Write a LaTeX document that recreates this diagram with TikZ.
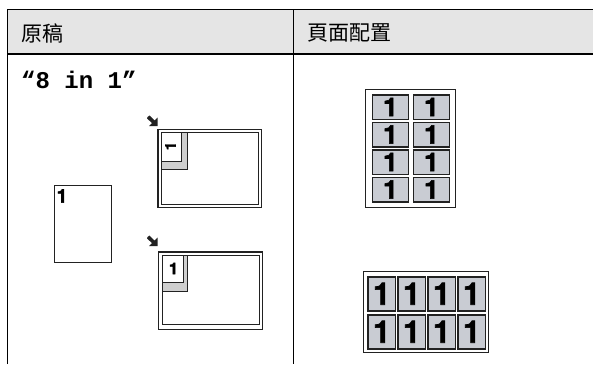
\documentclass[tikz,border=0pt]{standalone}
\usepackage{fontspec}
\newfontfamily\cjk{Noto Sans CJK TC}
\newfontfamily\courf{Liberation Mono}
\newfontfamily\arialf{TeX Gyre Heros}[BoldFeatures={FakeBold=2}]
\definecolor{hdr}{HTML}{E5E5E5}
\definecolor{cellg}{HTML}{C9CCD3}
\definecolor{shade}{HTML}{CFCFCF}
\definecolor{ln}{HTML}{222222}
\tikzset{
  tbl/.style={line width=1.6pt, black},
  pg/.style={draw=ln, line width=1pt, fill=white},
  dbl/.style={draw=ln, line width=1.2pt},
  cell/.style={draw=ln, line width=1.5pt, fill=cellg},
  one/.style={inner sep=0pt},
  hdrtxt/.style={font=\cjk\fontsize{21}{21}\selectfont, inner sep=0pt, anchor=west},
}
\begin{document}
\begin{tikzpicture}[x=1pt,y=-1pt]
\useasboundingbox (0,0) rectangle (593,364);
% header
\fill[hdr] (7.5,9.5) rectangle (593,54);
\draw[tbl] (7.5,364) -- (7.5,9.5) coordinate (tl) -- (593,9.5) coordinate (tr);
\draw[tbl] (7.5,54) coordinate (hl) -- (593,54) coordinate (hr);
\draw[tbl] (293.5,9.5) coordinate (dt) -- (293.5,364) coordinate (db);
\node[hdrtxt] (h1) at (21,33) {原稿};
\node[hdrtxt] (h2) at (307,33) {頁面配置};
% 8 in 1
\node[font=\courf\bfseries\fontsize{24}{24}\selectfont, inner sep=0pt, anchor=base west] (t81) at (21,88.5) {“8 in 1”};
% left original page
\draw[pg] (54,185) rectangle (111,262);
\node[one, font=\arialf\bfseries\fontsize{19}{19}\selectfont, anchor=north west] (p1) at (56.5,189) {1};
% upper landscape
\fill[ln] (147.5,117) -- (149.5,115.5) -- (154.5,120.5) -- (157.5,117.5) -- (157.5,126) -- (149,126) -- (152,123) -- (147,118.5) -- cycle;
\draw[dbl] (158,129.7) rectangle (261.5,207.3);
\draw[draw=ln, line width=1pt] (161.5,132.7) rectangle (258.5,204.3);
\draw[draw=ln, line width=1pt, fill=shade] (161.5,132.7) rectangle (187.3,169);
\draw[pg] (161.5,132.7) rectangle (181.7,161.7);
\node[one, font=\arialf\bfseries\fontsize{15}{15}\selectfont, rotate=90] (r1) at (170.5,146) {1};
% lower landscape
\fill[ln] (147.5,237) -- (149.5,235.5) -- (154.5,240.5) -- (157.5,237.5) -- (157.5,246) -- (149,246) -- (152,243) -- (147,238.5) -- cycle;
\draw[dbl] (158.3,252) rectangle (262.3,329.3);
\draw[draw=ln, line width=1pt] (162.3,255) rectangle (259.8,324.3);
\draw[draw=ln, line width=1pt, fill=shade] (162.3,255) rectangle (187.3,291);
\draw[pg] (162.3,255) rectangle (183.3,282.7);
\node[one, font=\arialf\bfseries\fontsize{16}{16}\selectfont] (u1) at (173.5,268.5) {1};
% right upper layout 2x4
\draw[dbl] (365.5,89.8) rectangle (455.3,207.5);
\foreach \c/\x in {0/371.7,1/412.7}{
  \foreach \r in {0,1,2,3}{
    \node[cell, minimum width=36pt, minimum height=24.5pt, anchor=north west, inner sep=0pt,
          font=\arialf\bfseries\fontsize{26}{26}\selectfont] (a\c\r) at (\x,{94+27.5*\r}) {1};
  }
}
% right lower layout 4x2
\draw[dbl] (363.5,271.7) rectangle (488.3,352.5);
\foreach \c in {0,1,2,3}{
  \foreach \r in {0,1}{
    \node[cell, minimum width=27.5pt, minimum height=34pt, anchor=north west, inner sep=0pt,
          font=\arialf\bfseries\fontsize{31}{31}\selectfont] (b\c\r) at ({367.3+30*\c},{276+38*\r}) {1};
  }
}
\end{tikzpicture}
\end{document}
